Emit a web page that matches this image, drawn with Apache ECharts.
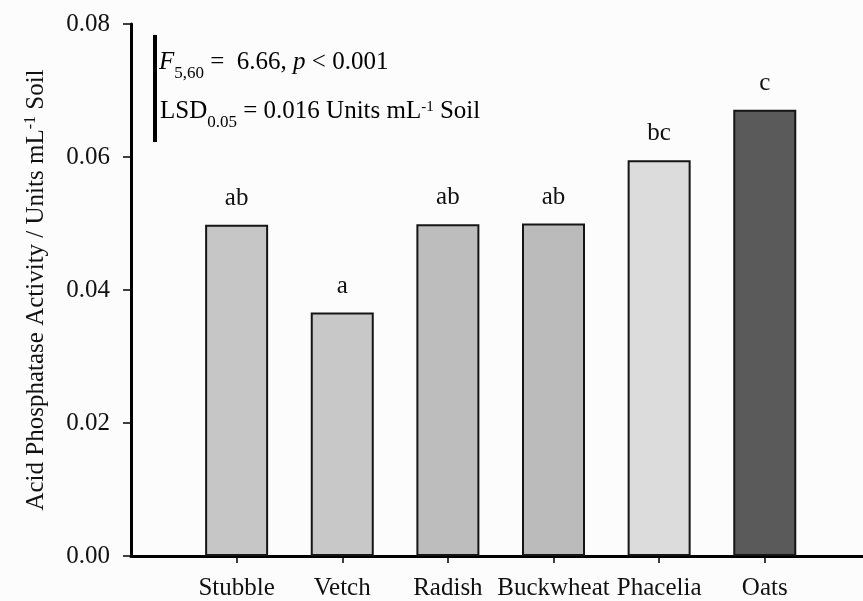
<!DOCTYPE html>
<html><head><meta charset="utf-8">
<script src="https://cdn.jsdelivr.net/npm/echarts@6/dist/echarts.min.js"></script>
<style>html,body{margin:0;padding:0;background:#fcfcfc}#c{width:863px;height:601px}</style>
</head><body><div id="c"></div>
<script>
const categories = ['Stubble', 'Vetch', 'Radish', 'Buckwheat', 'Phacelia', 'Oats'];
const values = [0.0498, 0.0366, 0.0499, 0.0500, 0.0595, 0.0671];
const letters = ['ab', 'a', 'ab', 'ab', 'bc', 'c'];
const barColors = ['#c6c6c6', '#c8c8c8', '#bdbdbd', '#bbbbbb', '#dcdcdc', '#5a5a5a'];
const yTicks = [0, 0.02, 0.04, 0.06, 0.08];

const FONT = 'Liberation Serif';
const chart = echarts.init(document.getElementById('c'));
const idx = categories.map((c, i) => i);

const richBase = {
  n: { fontFamily: FONT, fontSize: 25, color: '#111', lineHeight: 40 },
  i: { fontFamily: FONT, fontSize: 25, color: '#111', lineHeight: 40, fontStyle: 'italic' },
  sub: { fontFamily: FONT, fontSize: 17, color: '#111', lineHeight: 17, verticalAlign: 'bottom' },
  sup: { fontFamily: FONT, fontSize: 15, color: '#111', lineHeight: 15, verticalAlign: 'top', padding: [9, 0, 0, 0] }
};

chart.setOption({
  backgroundColor: '#fcfcfc',
  animation: false,
  grid: { left: 131, right: 0, top: 24, bottom: 44 },
  xAxis: {
    type: 'value',
    min: -1,
    max: 5.93,
    axisLine: { show: true, onZero: false, lineStyle: { color: '#000', width: 3 } },
    axisTick: { show: true, customValues: idx, length: 7, lineStyle: { color: '#000', width: 1.5 } },
    axisLabel: {
      customValues: idx,
      formatter: v => categories[Math.round(v)] || '',
      fontFamily: FONT, fontSize: 25, color: '#111', margin: 20
    },
    splitLine: { show: false }
  },
  yAxis: {
    type: 'value',
    min: yTicks[0],
    max: yTicks[yTicks.length - 1],
    interval: 0.02,
    axisLine: { show: true, onZero: false, lineStyle: { color: '#000', width: 3 } },
    axisTick: { show: true, length: 8, lineStyle: { color: '#000', width: 1.5 } },
    axisLabel: { formatter: v => v.toFixed(2), fontFamily: FONT, fontSize: 25, color: '#111', margin: 21 },
    splitLine: { show: false },
    name: '{n|Acid Phosphatase Activity / Units mL}{sup|-1}{n| Soil}',
    nameLocation: 'middle',
    nameGap: 78,
    nameTextStyle: {
      rich: {
        n: { fontFamily: FONT, fontSize: 25, color: '#111', lineHeight: 34 },
        sup: { fontFamily: FONT, fontSize: 16, color: '#111', lineHeight: 16, verticalAlign: 'top', padding: [4, 0, 0, 0] }
      }
    }
  },
  series: [{
    type: 'bar',
    barWidth: 63,
    data: values.map((v, i) => ({ value: [i, v], itemStyle: { color: barColors[i] } })),
    itemStyle: { borderColor: '#151515', borderWidth: 2 },
    label: {
      show: true, position: 'top', distance: 14,
      formatter: p => letters[p.dataIndex],
      fontFamily: FONT, fontSize: 25, color: '#111'
    }
  }],
  graphic: [
    { type: 'line', shape: { x1: 155, y1: 35, x2: 155, y2: 142 }, style: { stroke: '#000', lineWidth: 4 } },
    { type: 'text', left: 159, top: 50,
      style: { text: '{i|F}{sub|5,60}{n| =  6.66, }{i|p}{n| < 0.001}', rich: richBase } },
    { type: 'text', left: 160, top: 91,
      style: { text: '{n|LSD}{sub|0.05}{n| = 0.016 Units mL}{sup|-1}{n| Soil}', rich: richBase } }
  ]
});
</script>
</body></html>
